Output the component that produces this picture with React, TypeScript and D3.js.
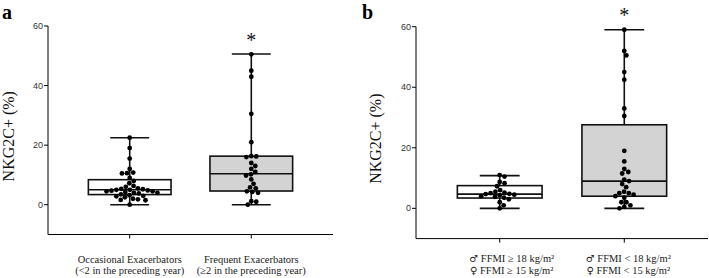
import React from "react";
import * as d3 from "d3";

// ---------- DATA ----------
const yTicks = [0, 20, 40, 60];

const catsA = ["Occasional", "Frequent"];
const labelsA = [
  [["", "Occasional Exacerbators"], ["", "(<2 in the preceding year)"]],
  [["", "Frequent Exacerbators"], ["", "(≥2 in the preceding year)"]],
];
const occasional = [22.5, 19, 15.5, 12, 10.8, 10.5, 10.6, 9, 8, 7.2, 6.3, 6, 5.5, 5.3, 5.2, 5, 5, 4.8, 4.7, 4.5, 4.5, 4.3, 4, 4, 3.8, 3.5, 3.2, 3, 2.8, 2.5, 2, 1.8, 1.6, 1.5, 0];
const frequent = [50.5, 45, 43, 30.5, 21, 16.3, 16, 16.2, 14, 13, 12, 11, 10.2, 9.8, 8.5, 7, 5.8, 5.5, 4.5, 4.3, 4, 1.2, 1, 0];
const statsA = [
  { min: 0, q1: 3.4, med: 5, q3: 8.4, max: 22.5 },
  { min: 0, q1: 4.6, med: 10.4, q3: 16.3, max: 50.6 },
];

const catsB = ["High FFMI", "Low FFMI"];
const labelsB = [
  [["♂", " FFMI ≥ 18 kg/m²"], ["♀", " FFMI ≥ 15 kg/m²"]],
  [["♂", " FFMI < 18 kg/m²"], ["♀", " FFMI < 15 kg/m²"]],
];
const highFFMI = [11, 10.5, 8.7, 8.3, 7.3, 6, 5.5, 5.2, 5, 4.8, 4.7, 4.5, 4.3, 4, 3.8, 3.5, 3, 2, 1, 0];
const lowFFMI = [59, 52, 50.5, 45, 42.5, 33, 30.5, 19, 15.5, 13, 12, 11.5, 9.5, 9, 8, 7, 5.5, 5, 5, 4.5, 4, 3.5, 2, 2, 1, 0.5, 0];
const statsB = [
  { min: 0, q1: 3.4, med: 4.7, q3: 7.5, max: 10.8 },
  { min: 0, q1: 4, med: 9, q3: 27.6, max: 59 },
];

const fills = ["#ffffff", "#d3d3d3"];
const R = 2.4;

function swarm(values: number[], y: (v: number) => number) {
  const sorted = [...values].sort((a, b) => b - a);
  const placed: { x: number; y: number }[] = [];
  const d = 2 * R + 0.2;
  for (const v of sorted) {
    const py = y(v);
    const near = placed.filter((p) => Math.abs(p.y - py) < d);
    const cands = [0];
    for (const p of near) {
      const dx = Math.sqrt(d * d - (p.y - py) ** 2);
      cands.push(p.x + dx, p.x - dx);
    }
    cands.sort((a, b) => Math.abs(a) - Math.abs(b));
    let best = 0;
    for (const c of cands) {
      if (near.every((p) => (p.x - c) ** 2 + (p.y - py) ** 2 >= d * d - 0.01)) {
        best = c;
        break;
      }
    }
    placed.push({ x: best, y: py });
  }
  return placed;
}

type PanelProps = {
  letter: string;
  x0: number;
  x1: number;
  yTop: number;
  yBot: number;
  cats: string[];
  labels: string[][][];
  data: number[][];
  stats: { min: number; q1: number; med: number; q3: number; max: number }[];
  star: number;
  labelX: number;
  letterX: number;
  labelOffsets: number[];
  labelY: number;
};

function Panel(p: PanelProps) {
  const y = d3.scaleLinear().domain([-10, 60]).range([p.yBot, p.yTop]);
  const x = d3.scalePoint<string>().domain(p.cats).range([p.x0, p.x1]).padding(0.672);
  const step = x.step();
  const bw = step * 0.68;
  const cw = step * 0.32;
  const tickFont = "Arial, 'Liberation Sans', sans-serif";
  const serif = "'Times New Roman', 'Liberation Serif', serif";
  const midY = (y(60) + y(-10)) / 2;
  return (
    <g>
      <text x={p.letterX} y={19} fontFamily={serif} fontSize={20} fontWeight="bold">{p.letter}</text>
      <text
        transform={`translate(${p.labelX},${midY + 6}) rotate(-90)`}
        textAnchor="middle"
        fontFamily={serif}
        fontSize={16}
        fill="#111"
      >
        NKG2C+ (%)
      </text>
      <line x1={p.x0} x2={p.x0} y1={y(60)} y2={y(-10)} stroke="#000" strokeWidth={1} />
      <line x1={p.x0} x2={p.x1} y1={y(-10)} y2={y(-10)} stroke="#000" strokeWidth={1} />
      {yTicks.map((t) => (
        <g key={t}>
          <line x1={p.x0 - 4} x2={p.x0} y1={y(t)} y2={y(t)} stroke="#000" />
          <text x={p.x0 - 5} y={y(t)} dy="0.35em" textAnchor="end" fontFamily={tickFont} fontSize={9} fill="#333">
            {t}
          </text>
        </g>
      ))}
      {p.cats.map((c, i) => (
        <g key={c}>
          <line x1={x(c)} x2={x(c)} y1={y(-10)} y2={y(-10) + 4} stroke="#000" />
          {p.labels[i].map((l, j) => (
            <text
              key={j}
              x={(x(c) as number) + p.labelOffsets[i]}
              y={p.labelY + j * 11.5}
              textAnchor="middle"
              fontFamily={serif}
              fontSize={10.5}
              fill="#222"
            >
              {l[0] ? (
                <tspan fontFamily="'DejaVu Sans', sans-serif" fontSize={10}>{l[0]}</tspan>
              ) : null}
              {l[1]}
            </text>
          ))}
        </g>
      ))}
      {p.cats.map((c, i) => {
        const cx = x(c) as number;
        const s = p.stats[i];
        return (
          <g key={c} stroke="#111" strokeWidth={1.6}>
            <line x1={cx} x2={cx} y1={y(s.max)} y2={y(s.q3)} />
            <line x1={cx} x2={cx} y1={y(s.q1)} y2={y(s.min)} />
            <line x1={cx - cw / 2} x2={cx + cw / 2} y1={y(s.max)} y2={y(s.max)} />
            <line x1={cx - cw / 2} x2={cx + cw / 2} y1={y(s.min)} y2={y(s.min)} />
            <rect x={cx - bw / 2} y={y(s.q3)} width={bw} height={y(s.q1) - y(s.q3)} fill={fills[i]} />
            <line x1={cx - bw / 2} x2={cx + bw / 2} y1={y(s.med)} y2={y(s.med)} />
          </g>
        );
      })}
      {p.cats.map((c, i) => {
        const cx = x(c) as number;
        return swarm(p.data[i], y).map((pt, k) => (
          <circle key={c + k} cx={cx + pt.x} cy={pt.y} r={R} fill="#000" />
        ));
      })}
      <text
        x={x(p.cats[1]) as number}
        y={y(p.star)}
        textAnchor="middle"
        fontFamily={serif}
        fontSize={20}
        fill="#111"
      >
        *
      </text>
    </g>
  );
}

export default function App() {
  return (
    <svg width={709} height={278} style={{ position: "absolute", left: 0, top: 0, background: "#fff" }}>
      <rect width={709} height={278} fill="#fff" />
      <Panel
        letter="a"
        x0={48}
        x1={333}
        yTop={26}
        yBot={234.5}
        cats={catsA}
        labels={labelsA}
        data={[occasional, frequent]}
        stats={statsA}
        star={53}
        labelX={14}
        letterX={2}
        labelOffsets={[0, 0]}
        labelY={262.5}
      />
      <Panel
        letter="b"
        x0={416}
        x1={708}
        yTop={26.7}
        yBot={238.6}
        cats={catsB}
        labels={labelsB}
        data={[highFFMI, lowFFMI]}
        stats={statsB}
        star={61.5}
        labelX={381}
        letterX={362}
        labelOffsets={[12, 4]}
        labelY={262}
      />
    </svg>
  );
}
